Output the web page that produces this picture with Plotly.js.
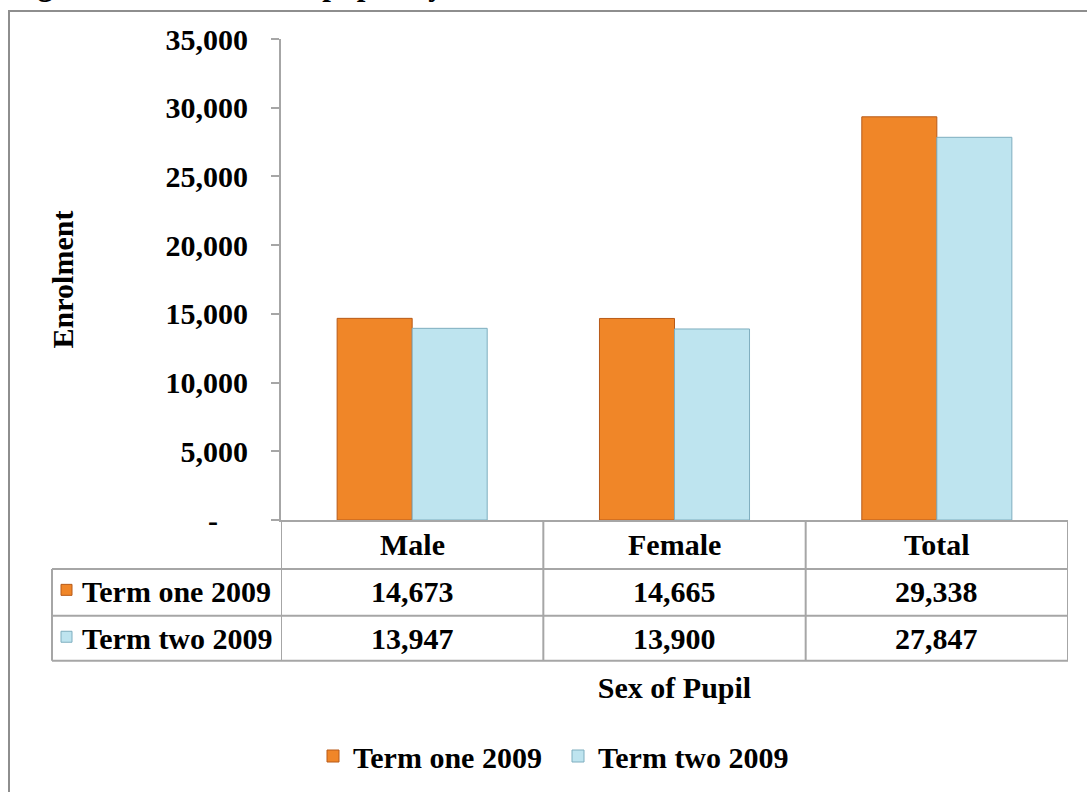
<!DOCTYPE html>
<html>
<head>
<meta charset="utf-8">
<script src="https://cdn.plot.ly/plotly-3.0.1.min.js"></script>
<style>
html,body{margin:0;padding:0;background:#fff;}
#chart{width:1087px;height:792px;}
</style>
</head>
<body>
<div id="chart"></div>
<script>
// ---------------- data ----------------
const categories = ["Male", "Female", "Total"];
const termOne = [14673, 14665, 29338];
const termTwo = [13947, 13900, 27847];
const seriesNames = ["Term one 2009", "Term two 2009"];
const yTickVals = [0, 5000, 10000, 15000, 20000, 25000, 30000, 35000];
const yTickText = ["-\u00a0\u00a0\u00a0\u00a0", "5,000", "10,000", "15,000", "20,000", "25,000", "30,000", "35,000"];
const chartTitle = "Figure 4: Enrolment of pupils by sex in first and second term 2009";
const yTitle = "Enrolment";
const xTitle = "Sex of Pupil";

// ---------------- styling ----------------
const W = 1087, H = 792;
const L = 281, R = 1068, T = 39, B = 521;
const px2x = p => (p - L) / (R - L);
const px2y = p => (B - p) / (B - T);
const FONT = "Liberation Serif, 'Times New Roman', Times, serif";
const f = (size) => ({family: FONT, size: size, color: "#000", weight: 700});
const FS = 30;
const ORANGE = "#F08628", ORANGE_LINE = "#B85A18";
const BLUE = "#BEE4EF", BLUE_LINE = "#7FAEBF";
const GRID = "#A6A6A6";
const fmt = v => v.toLocaleString("en-US");

const traces = [
  {type: "bar", name: seriesNames[0], x: categories, y: termOne,
   marker: {color: ORANGE, line: {color: ORANGE_LINE, width: 1}}, hoverinfo: "x+y+name"},
  {type: "bar", name: seriesNames[1], x: categories, y: termTwo,
   marker: {color: BLUE, line: {color: BLUE_LINE, width: 1}}, hoverinfo: "x+y+name"}
];

// ---------------- data table (shapes + annotations) ----------------
const rowY = [546, 593, 640];        // text centres: header, row1, row2
const rowLines = [570, 617, 662];
const tableLeft = 52;
const shapes = [];
const line = (x0, y0, x1, y1, xref) => ({
  type: "line", xref: xref || "paper", yref: "paper",
  x0: x0, x1: x1, y0: px2y(y0), y1: px2y(y1),
  line: {color: GRID, width: 2}, layer: "above"
});

// outer chart frame (left + top edges)
shapes.push({type: "path", xref: "paper", yref: "paper",
  path: `M ${px2x(9)} ${px2y(800)} L ${px2x(9)} ${px2y(11)} L ${px2x(1100)} ${px2y(11)}`,
  line: {color: "#8E8E8E", width: 2}});

// vertical column separators at category boundaries
for (let i = 0; i <= categories.length; i++) {
  shapes.push(line(i - 0.5, B, i - 0.5, rowLines[2], "x"));
}
// left border of legend column
shapes.push(line(px2x(tableLeft), rowLines[0], px2x(tableLeft), rowLines[2]));
// horizontal row lines
rowLines.forEach(y => shapes.push(line(px2x(tableLeft), y, 1, y)));

// legend keys inside table
[[ORANGE, ORANGE_LINE], [BLUE, BLUE_LINE]].forEach((c, i) => {
  const cy = rowY[i + 1] - 2;
  shapes.push({type: "rect", xref: "paper", yref: "paper",
    x0: px2x(61), x1: px2x(72), y0: px2y(cy - 5.5), y1: px2y(cy + 5.5),
    fillcolor: c[0], line: {color: c[1], width: 1}});
});

const annotations = [];
categories.forEach((c, i) => {
  annotations.push({xref: "x", yref: "paper", x: c, y: px2y(rowY[0]), text: c,
    showarrow: false, font: f(FS), xanchor: "center", yanchor: "middle"});
  annotations.push({xref: "x", yref: "paper", x: c, y: px2y(rowY[1]), text: fmt(termOne[i]),
    showarrow: false, font: f(FS), xanchor: "center", yanchor: "middle"});
  annotations.push({xref: "x", yref: "paper", x: c, y: px2y(rowY[2]), text: fmt(termTwo[i]),
    showarrow: false, font: f(FS), xanchor: "center", yanchor: "middle"});
});
seriesNames.forEach((s, i) => {
  annotations.push({xref: "paper", yref: "paper", x: px2x(80), y: px2y(rowY[i + 1]), text: s,
    showarrow: false, font: f(FS), xanchor: "left", yanchor: "middle"});
});
// chart title (cut off at the top of the picture, as in the source image)
annotations.push({xref: "paper", yref: "paper", x: px2x(8), y: px2y(-15.5), text: chartTitle,
  showarrow: false, font: f(31), xanchor: "left", yanchor: "middle"});

const layout = {
  width: W, height: H,
  margin: {l: L, r: W - R, t: T, b: H - B, pad: 0},
  paper_bgcolor: "#fff", plot_bgcolor: "#fff",
  barmode: "group", bargap: 0.428, bargroupgap: 0,
  font: f(FS),
  showlegend: true,
  legend: {orientation: "h", x: px2x(313), xanchor: "left", y: px2y(756), yanchor: "middle",
    entrywidth: 200, entrywidthmode: "pixels",
    font: f(FS), bgcolor: "rgba(0,0,0,0)", itemclick: false, itemdoubleclick: false},
  xaxis: {type: "category", range: [-0.5, 2.5], fixedrange: true,
    showticklabels: false, ticks: "", showgrid: false, zeroline: false,
    showline: true, linecolor: GRID, linewidth: 2,
    title: {text: xTitle, font: f(FS), standoff: 156}, automargin: false},
  yaxis: {range: [0, 35000], fixedrange: true, tickvals: yTickVals, ticktext: yTickText,
    ticks: "outside", ticklen: 8, tickwidth: 2, tickcolor: GRID, ticklabelstandoff: 17,
    tickfont: f(FS), showgrid: false, zeroline: false,
    showline: true, linecolor: GRID, linewidth: 2,
    title: {text: yTitle, font: f(FS), standoff: 83}, automargin: false},
  shapes: shapes,
  annotations: annotations
};

Plotly.newPlot("chart", traces, layout, {displayModeBar: false, staticPlot: true});
</script>
</body>
</html>
